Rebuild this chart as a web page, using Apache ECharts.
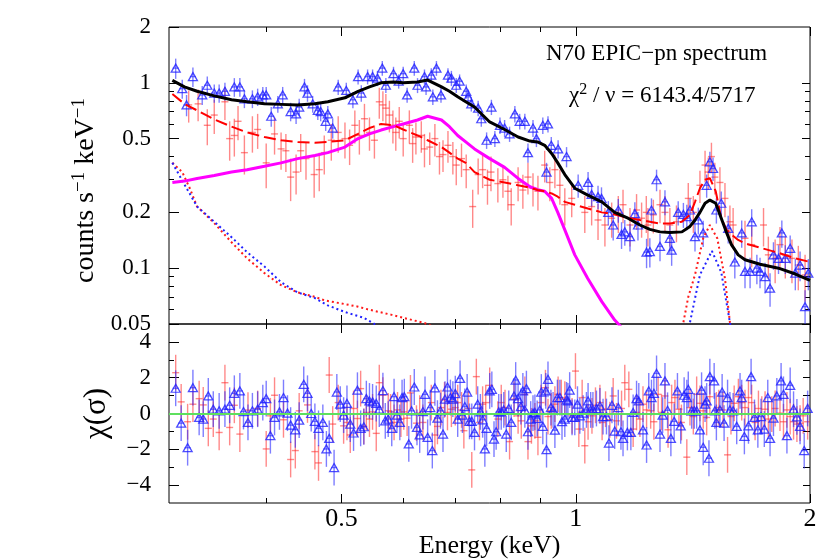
<!DOCTYPE html>
<html>
<head>
<meta charset="utf-8">
<title>N70 EPIC-pn spectrum</title>
<script src="https://cdn.jsdelivr.net/npm/echarts@6.0.0/dist/echarts.min.js"></script>
<style>
  html, body { margin: 0; padding: 0; background: #fff; }
  #chart { width: 830px; height: 560px; }
</style>
</head>
<body>
<div id="chart"></div>
<script>
// energy (keV), counts s^-1 keV^-1, 1-sigma error
const pnData = [
  [0.306,1.20,0.15],[0.312,0.93,0.11],[0.316,0.76,0.10],[0.322,1.08,0.13],[0.331,0.86,0.10],[0.336,0.97,0.11],
  [0.343,0.88,0.10],[0.348,0.88,0.10],[0.354,0.90,0.10],[0.364,0.95,0.11],[0.370,0.95,0.11],[0.375,0.82,0.09],
  [0.384,0.82,0.09],[0.390,0.84,0.09],[0.396,0.86,0.09],[0.400,0.86,0.09],[0.406,0.66,0.08],[0.414,0.77,0.08],
  [0.420,0.86,0.09],[0.430,0.70,0.08],[0.437,0.68,0.08],[0.441,0.74,0.08],[0.448,0.95,0.10],[0.452,0.88,0.09],
  [0.459,0.77,0.08],[0.466,0.71,0.08],[0.470,0.70,0.08],[0.477,0.62,0.07],[0.480,0.68,0.07],[0.487,0.57,0.07],
  [0.495,0.95,0.09],[0.507,0.91,0.09],[0.517,0.81,0.08],[0.525,1.08,0.10],[0.530,0.88,0.09],[0.540,1.08,0.10],
  [0.548,1.08,0.10],[0.556,1.06,0.10],[0.564,1.20,0.11],[0.570,0.97,0.09],[0.583,1.12,0.10],[0.592,1.02,0.09],
  [0.600,1.12,0.10],[0.607,0.86,0.08],[0.620,1.20,0.11],[0.626,0.97,0.09],[0.639,1.08,0.10],[0.642,0.95,0.09],
  [0.652,1.10,0.10],[0.655,0.84,0.08],[0.662,1.20,0.11],[0.671,0.86,0.08],[0.685,1.10,0.10],[0.692,1.06,0.10],
  [0.702,0.97,0.09],[0.709,1.02,0.09],[0.723,0.90,0.08],[0.727,0.84,0.08],[0.734,0.77,0.07],[0.749,0.73,0.07],
  [0.756,0.64,0.06],[0.768,0.49,0.05],[0.779,0.74,0.07],[0.787,0.50,0.05],[0.799,0.59,0.06],[0.810,0.57,0.06],
  [0.822,0.53,0.05],[0.835,0.68,0.07],[0.847,0.62,0.06],[0.860,0.62,0.06],[0.868,0.42,0.05],[0.881,0.57,0.06],
  [0.890,0.50,0.05],[0.907,0.59,0.06],[0.917,0.33,0.04],[0.921,0.60,0.06],[0.930,0.46,0.05],[0.949,0.44,0.05],
  [0.973,0.40,0.05],[1.007,0.28,0.04],[1.037,0.29,0.04],[1.048,0.25,0.035],[1.068,0.243,0.035],[1.079,0.238,0.035],
  [1.101,0.20,0.03],[1.117,0.171,0.03],[1.134,0.206,0.03],[1.145,0.152,0.025],[1.156,0.157,0.025],[1.174,0.148,0.025],
  [1.191,0.197,0.03],[1.202,0.171,0.03],[1.233,0.122,0.022],[1.245,0.123,0.022],[1.251,0.206,0.032],[1.270,0.30,0.04],
  [1.283,0.131,0.022],[1.302,0.228,0.035],[1.321,0.145,0.025],[1.328,0.125,0.022],[1.354,0.20,0.03],[1.375,0.195,0.03],
  [1.389,0.19,0.03],[1.402,0.206,0.032],[1.423,0.148,0.025],[1.437,0.182,0.03],[1.458,0.155,0.025],[1.473,0.28,0.04],
  [1.487,0.375,0.05],[1.501,0.345,0.05],[1.516,0.206,0.032],[1.538,0.224,0.035],[1.570,0.164,0.028],[1.601,0.108,0.02],
  [1.634,0.155,0.026],[1.650,0.096,0.018],[1.675,0.096,0.018],[1.683,0.178,0.03],[1.709,0.100,0.018],[1.725,0.096,0.018],
  [1.751,0.090,0.017],[1.777,0.078,0.016],[1.795,0.118,0.02],[1.822,0.113,0.02],[1.840,0.155,0.026],[1.859,0.113,0.02],
  [1.886,0.128,0.022],[1.915,0.094,0.018],[1.942,0.104,0.019],[1.971,0.062,0.014],[1.990,0.094,0.018]
];

const mosData = [
  [0.318,0.76,0.15],[0.327,0.77,0.15],[0.336,0.59,0.13],[0.343,0.67,0.14],[0.354,0.79,0.16],[0.359,0.50,0.12],
  [0.364,0.52,0.12],[0.368,0.62,0.13],[0.375,0.42,0.10],[0.384,0.54,0.12],[0.390,0.56,0.12],[0.400,0.37,0.10],
  [0.410,0.53,0.12],[0.418,0.44,0.10],[0.424,0.43,0.10],[0.430,0.31,0.08],[0.437,0.33,0.08],[0.443,0.43,0.10],
  [0.450,0.39,0.09],[0.461,0.32,0.08],[0.468,0.34,0.08],[0.475,0.42,0.10],[0.485,0.49,0.11],[0.495,0.54,0.12],
  [0.505,0.50,0.11],[0.512,0.46,0.10],[0.520,0.59,0.12],[0.527,0.52,0.11],[0.535,0.64,0.13],[0.543,0.54,0.11],
  [0.551,0.49,0.10],[0.559,0.79,0.15],[0.565,0.76,0.14],[0.570,0.73,0.14],[0.576,0.67,0.13],[0.582,0.59,0.12],
  [0.587,0.54,0.11],[0.593,0.62,0.12],[0.600,0.50,0.10],[0.611,0.59,0.12],[0.617,0.47,0.10],[0.623,0.51,0.10],
  [0.633,0.52,0.10],[0.639,0.44,0.09],[0.649,0.45,0.09],[0.659,0.50,0.10],[0.668,0.40,0.08],[0.675,0.41,0.08],
  [0.685,0.46,0.09],[0.695,0.40,0.08],[0.702,0.36,0.08],[0.713,0.39,0.08],[0.723,0.34,0.07],[0.737,0.215,0.05],
  [0.749,0.32,0.07],[0.759,0.34,0.07],[0.770,0.28,0.06],[0.778,0.33,0.07],[0.794,0.286,0.06],[0.806,0.30,0.06],
  [0.818,0.26,0.055],[0.826,0.22,0.05],[0.843,0.29,0.06],[0.855,0.264,0.055],[0.868,0.31,0.06],[0.881,0.27,0.055],
  [0.894,0.26,0.055],[0.912,0.36,0.07],[0.926,0.29,0.06],[0.940,0.34,0.07],[0.954,0.28,0.06],[0.968,0.22,0.05],
  [0.988,0.238,0.05],[1.027,0.20,0.045],[1.048,0.215,0.045],[1.068,0.182,0.04],[1.090,0.171,0.04],[1.112,0.186,0.04],
  [1.134,0.20,0.045],[1.150,0.22,0.045],[1.174,0.171,0.04],[1.197,0.206,0.045],[1.215,0.186,0.04],[1.232,0.20,0.045],
  [1.238,0.171,0.04],[1.258,0.194,0.04],[1.283,0.22,0.045],[1.302,0.20,0.045],[1.321,0.171,0.04],[1.347,0.178,0.04],
  [1.395,0.238,0.05],[1.416,0.20,0.045],[1.444,0.28,0.055],[1.466,0.36,0.07],[1.480,0.33,0.065],[1.494,0.40,0.075],
  [1.509,0.31,0.06],[1.532,0.29,0.06],[1.555,0.238,0.05],[1.578,0.178,0.04],[1.593,0.171,0.04],[1.650,0.145,0.035],
  [1.683,0.134,0.033],[1.743,0.171,0.04],[1.768,0.118,0.03],[1.804,0.113,0.03],[1.830,0.134,0.033],[1.859,0.118,0.03],
  [1.896,0.113,0.03],[1.932,0.104,0.028],[1.971,0.092,0.026]
];

// folded models
const modelE = [0.303,0.314,0.326,0.343,0.361,0.378,0.398,0.418,0.439,0.462,0.480,0.505,0.525,0.543,0.562,0.583,
  0.600,0.626,0.645,0.672,0.688,0.705,0.722,0.741,0.775,0.810,0.843,0.873,0.893,0.912,0.931,0.948,0.968,0.997,
  1.036,1.080,1.122,1.167,1.209,1.245,1.283,1.321,1.369,1.402,1.423,1.444,1.466,1.487,1.513,1.538,1.563,1.585,
  1.617,1.650,1.725,1.822,1.915,2.0];
const modelPn = [1.03,0.95,0.90,0.85,0.81,0.79,0.77,0.765,0.76,0.77,0.79,0.83,0.90,0.95,1.0,1.01,1.0,1.01,1.035,0.95,
  0.90,0.84,0.79,0.74,0.615,0.56,0.51,0.485,0.48,0.46,0.416,0.37,0.32,0.27,0.248,0.228,0.20,0.186,0.171,0.162,
  0.157,0.156,0.157,0.168,0.182,0.20,0.224,0.233,0.224,0.186,0.155,0.134,0.118,0.111,0.105,0.10,0.093,0.086];
const modelMos = [0.87,0.77,0.71,0.635,0.58,0.54,0.51,0.49,0.48,0.475,0.48,0.49,0.53,0.57,0.60,0.59,0.56,0.52,0.49,0.45,
  0.42,0.39,0.37,0.33,0.30,0.29,0.28,0.272,0.264,0.26,0.253,0.243,0.228,0.22,0.21,0.20,0.195,0.187,0.182,0.178,
  0.174,0.174,0.178,0.194,0.228,0.27,0.30,0.306,0.26,0.186,0.161,0.152,0.142,0.136,0.129,0.121,0.113,0.108];
const modelComp = [0.29,0.295,0.305,0.316,0.33,0.34,0.355,0.37,0.39,0.405,0.42,0.45,0.50,0.53,0.556,0.58,0.60,0.63,0.66,0.63,
  0.58,0.52,0.48,0.44,0.39,0.35,0.305,0.275,0.265,0.26,0.238,0.20,0.161,0.118,0.088,0.066,0.0525,0.044];

// background and line components
const bgPnE = [0.303,0.317,0.326,0.343,0.361,0.378,0.398,0.418,0.439,0.462,0.480,0.505,0.534,0.556,0.570];
const bgPn = [0.37,0.264,0.215,0.178,0.147,0.122,0.102,0.084,0.074,0.069,0.063,0.058,0.054,0.049,0.045];
const bgMosE = [0.303,0.312,0.319,0.326,0.343,0.361,0.378,0.398,0.418,0.439,0.462,0.476,0.505,0.525,0.540,0.580,0.639,0.668];
const bgMos = [0.37,0.33,0.27,0.215,0.175,0.138,0.113,0.094,0.081,0.074,0.070,0.067,0.064,0.062,0.060,0.056,0.0506,0.047];
const linePnE = [1.389,1.402,1.444,1.496,1.538,1.578,1.593];
const linePn = [0.04,0.051,0.092,0.124,0.095,0.051,0.04];
const lineMosE = [1.361,1.375,1.395,1.423,1.458,1.487,1.520,1.555,1.578,1.593];
const lineMos = [0.04,0.051,0.07,0.092,0.145,0.171,0.145,0.088,0.051,0.04];

// residuals, (data-model)/error
const pnResid = [
  [0.306,1.41],[0.311,-0.54],[0.317,-1.91],[0.322,1.44],[0.328,-0.22],[0.332,-0.31],[0.337,0.98],[0.342,0.24],
  [0.348,0.15],[0.354,0.24],[0.359,0.46],[0.364,1.13],[0.370,1.26],[0.374,0.11],[0.379,-0.50],[0.384,0.15],
  [0.390,0.24],[0.396,0.61],[0.400,0.83],[0.405,-1.24],[0.410,-0.22],[0.416,0.09],[0.421,0.89],[0.426,0.02],
  [0.430,-0.65],[0.436,-0.91],[0.441,-0.37],[0.447,1.63],[0.452,1.13],[0.457,0.00],[0.462,-0.44],[0.467,-0.83],
  [0.473,-0.50],[0.478,-1.98],[0.482,-1.39],[0.489,-3.02],[0.493,1.20],[0.498,0.52],[0.503,-0.09],[0.508,0.56],
  [0.513,-0.59],[0.518,-1.09],[0.524,1.30],[0.529,-0.83],[0.534,-0.74],[0.538,0.83],[0.543,0.70],[0.548,0.65],
  [0.554,0.56],[0.559,0.24],[0.565,1.28],[0.569,-0.41],[0.574,-0.31],[0.580,-0.83],[0.584,0.94],[0.589,-0.09],
  [0.594,-0.50],[0.598,0.89],[0.602,0.94],[0.610,-1.70],[0.615,0.15],[0.620,1.48],[0.625,-0.78],[0.630,-1.20],
  [0.636,0.11],[0.640,1.07],[0.645,-1.33],[0.650,0.33],[0.654,-2.07],[0.659,1.43],[0.664,-0.26],[0.670,0.15],
  [0.675,-1.15],[0.679,0.80],[0.684,1.48],[0.690,0.89],[0.695,0.80],[0.700,1.11],[0.705,-0.31],[0.710,1.96],
  [0.715,-0.09],[0.720,0.39],[0.725,1.20],[0.730,-0.44],[0.735,-0.44],[0.741,-1.06],[0.748,0.52],[0.754,0.09],
  [0.759,-0.35],[0.764,-1.98],[0.768,-0.83],[0.775,1.26],[0.780,1.35],[0.785,-1.43],[0.790,-1.02],[0.796,0.09],
  [0.802,0.09],[0.808,0.20],[0.814,-1.15],[0.820,0.28],[0.826,-0.50],[0.833,0.98],[0.837,1.87],[0.843,0.83],
  [0.850,0.39],[0.855,1.26],[0.860,0.20],[0.864,1.39],[0.868,-1.02],[0.875,-0.31],[0.881,0.02],[0.886,0.06],
  [0.892,-0.28],[0.899,0.20],[0.903,1.20],[0.907,-0.72],[0.915,1.26],[0.917,-2.02],[0.921,1.91],[0.929,0.33],
  [0.935,0.20],[0.940,-0.93],[0.947,0.89],[0.954,0.89],[0.960,-0.46],[0.968,-0.31],[0.973,0.76],[0.977,0.70],
  [0.982,1.31],[0.989,-0.22],[0.997,-0.22],[1.005,0.52],[1.012,-0.13],[1.022,0.02],[1.032,0.20],[1.037,0.70],
  [1.045,0.20],[1.052,0.20],[1.063,0.28],[1.074,0.43],[1.084,-0.17],[1.095,-0.17],[1.103,-1.65],[1.113,0.46],
  [1.122,-0.98],[1.134,0.33],[1.143,-1.02],[1.150,-1.39],[1.165,-1.06],[1.177,-1.06],[1.185,0.06],[1.197,0.83],
  [1.205,0.70],[1.220,-0.91],[1.233,-1.76],[1.241,1.26],[1.251,0.89],[1.260,1.13],[1.270,2.24],[1.283,-1.15],
  [1.293,-0.09],[1.302,1.82],[1.312,0.18],[1.325,-1.39],[1.338,-0.44],[1.351,1.26],[1.364,-0.69],[1.378,1.02],
  [1.389,0.89],[1.395,1.35],[1.409,0.15],[1.420,0.15],[1.430,0.15],[1.444,-0.91],[1.451,1.30],[1.458,-1.89],
  [1.466,0.52],[1.473,0.70],[1.483,-2.50],[1.487,2.06],[1.506,1.82],[1.509,0.15],[1.516,-0.50],[1.532,0.20],
  [1.542,1.20],[1.551,-0.54],[1.567,0.89],[1.578,0.20],[1.593,0.15],[1.610,-0.72],[1.626,1.26],[1.634,0.89],
  [1.647,-1.28],[1.667,-0.69],[1.680,2.06],[1.697,-0.22],[1.714,-0.91],[1.730,-0.17],[1.747,-0.87],[1.765,0.89],
  [1.777,-1.39],[1.795,-0.26],[1.813,0.98],[1.836,1.82],[1.849,1.07],[1.868,-1.24],[1.886,1.57],[1.905,0.24],
  [1.924,-0.19],[1.942,-0.72],[1.966,-2.07],[1.986,0.28]
];
const mosResid = [
  [0.306,2.28],[0.311,0.65],[0.317,-0.46],[0.322,0.52],[0.328,0.83],[0.332,0.48],[0.337,-0.83],[0.342,-0.31],
  [0.348,-1.06],[0.354,1.72],[0.359,-0.78],[0.364,0.46],[0.370,-1.15],[0.379,0.19],[0.390,0.28],[0.400,-1.98],
  [0.405,-0.13],[0.410,1.02],[0.421,-0.35],[0.430,-2.57],[0.436,-2.07],[0.441,0.15],[0.452,0.48],[0.462,-2.13],
  [0.467,-2.76],[0.482,2.15],[0.487,-0.59],[0.495,0.61],[0.503,-0.69],[0.508,-0.50],[0.513,-1.20],[0.518,0.28],
  [0.524,-0.28],[0.529,1.39],[0.534,-0.72],[0.538,0.06],[0.543,-0.31],[0.548,0.09],[0.554,-1.11],[0.559,1.72],
  [0.565,1.02],[0.574,0.15],[0.578,0.09],[0.584,-0.50],[0.590,0.20],[0.596,-0.31],[0.601,0.09],[0.607,-0.26],
  [0.613,1.15],[0.624,-0.54],[0.630,0.02],[0.636,-0.50],[0.652,0.61],[0.659,-1.20],[0.664,-0.72],[0.671,0.33],
  [0.678,0.76],[0.684,0.06],[0.692,0.24],[0.700,0.33],[0.705,0.61],[0.713,0.20],[0.718,-0.96],[0.728,0.28],
  [0.735,-3.15],[0.745,2.06],[0.752,-0.50],[0.759,0.52],[0.766,0.61],[0.775,1.57],[0.794,-0.31],[0.802,0.61],
  [0.811,0.33],[0.822,-1.57],[0.833,0.80],[0.843,-0.13],[0.851,-0.41],[0.860,1.07],[0.868,-1.57],[0.877,-0.69],
  [0.886,-0.41],[0.894,-1.33],[0.902,0.61],[0.914,1.44],[0.921,-0.17],[0.930,0.15],[0.940,0.52],[0.949,1.07],
  [0.958,0.89],[0.968,0.80],[0.989,-0.13],[0.999,2.37],[1.009,-0.87],[1.019,0.89],[1.027,-1.80],[1.037,-0.46],
  [1.049,-0.13],[1.060,0.46],[1.074,0.61],[1.081,-0.50],[1.092,0.24],[1.106,-0.35],[1.117,0.98],[1.128,-0.41],
  [1.145,0.28],[1.156,1.72],[1.170,1.35],[1.185,-0.87],[1.197,0.06],[1.209,-0.31],[1.220,0.52],[1.233,0.20],
  [1.248,0.15],[1.260,-0.46],[1.276,1.07],[1.289,0.06],[1.302,0.98],[1.314,-0.91],[1.328,0.61],[1.341,0.89],
  [1.357,0.24],[1.367,-0.50],[1.389,-2.44],[1.402,0.33],[1.416,-0.17],[1.430,1.07],[1.444,0.57],[1.458,0.15],
  [1.473,-0.22],[1.487,0.94],[1.516,0.20],[1.527,0.33],[1.546,0.20],[1.567,-2.31],[1.583,-0.17],[1.598,0.57],
  [1.618,0.94],[1.634,0.61],[1.650,0.33],[1.667,0.89],[1.683,0.61],[1.700,-0.50],[1.717,0.28],[1.734,-0.04],
  [1.751,0.24],[1.768,-0.31],[1.786,-0.04],[1.804,0.28],[1.830,0.02],[1.849,-0.46],[1.868,0.20],[1.886,-0.17],
  [1.905,-0.46],[1.924,-0.59],[1.942,-0.54],[1.960,-0.13],[1.986,-0.46]
];
const RES_ERR = 1;

// ticks
const xTicks = [0.5, 1, 2];
const xTickLabels = ['0.5', '1', '2'];
const xMinorTicks = [0.4, 0.6, 0.7, 0.8, 0.9];
const yTicks = [0.05, 0.1, 0.2, 0.5, 1, 2];
const yTickLabels = ['0.05', '0.1', '0.2', '0.5', '1', '2'];
const yMinorTicks = [0.06, 0.07, 0.08, 0.09, 0.3, 0.4, 0.6, 0.7, 0.8, 0.9];
const chiTicks = [-4, -2, 0, 2, 4];
const chiMinorTicks = [-3, -1, 1, 3];

const lg = Math.log10;
const FONT = 'Liberation Serif';
const X_MIN = lg(0.3), X_MAX = lg(2);
const Y_MIN = lg(0.05), Y_MAX = lg(2);

function nearestLabel(ticks, labels) {
  return function (v) {
    let best = 0;
    ticks.forEach((t, i) => { if (Math.abs(lg(t) - v) < Math.abs(lg(ticks[best]) - v)) best = i; });
    return labels[best];
  };
}

function tickAxis(gridIndex, position, min, max, ticks, len, extra) {
  return Object.assign({
    type: 'value', gridIndex: gridIndex, position: position, min: min, max: max,
    axisLine: { show: false, onZero: false },
    axisTick: { show: true, inside: true, length: len, customValues: ticks, lineStyle: { color: '#000', width: 1 } },
    axisLabel: { show: false },
    splitLine: { show: false }
  }, extra || {});
}

const lgTicks = arr => arr.map(v => lg(v));

// rich styles for superscripts
const nameRich = {
  a: { fontFamily: FONT, fontSize: 28, lineHeight: 32, color: '#000' },
  s: { fontFamily: FONT, fontSize: 19, lineHeight: 19, verticalAlign: 'top', color: '#000' }
};

const xAxes = [
  // top panel
  tickAxis(0, 'bottom', X_MIN, X_MAX, lgTicks(xTicks), 9),
  tickAxis(0, 'bottom', X_MIN, X_MAX, lgTicks(xMinorTicks), 5),
  tickAxis(0, 'top', X_MIN, X_MAX, lgTicks(xTicks), 9),
  tickAxis(0, 'top', X_MIN, X_MAX, lgTicks(xMinorTicks), 5),
  // residual panel
  tickAxis(1, 'bottom', X_MIN, X_MAX, lgTicks(xTicks), 9, {
    axisLabel: {
      show: true, customValues: lgTicks(xTicks), formatter: nearestLabel(xTicks, xTickLabels),
      margin: 3, fontFamily: FONT, fontSize: 26, color: '#000'
    },
    name: 'Energy (keV)', nameLocation: 'middle', nameGap: 29,
    nameTextStyle: { fontFamily: FONT, fontSize: 26, color: '#000' }
  }),
  tickAxis(1, 'bottom', X_MIN, X_MAX, lgTicks(xMinorTicks), 5),
  tickAxis(1, 'top', X_MIN, X_MAX, lgTicks(xTicks), 9),
  tickAxis(1, 'top', X_MIN, X_MAX, lgTicks(xMinorTicks), 5)
];

const yAxes = [
  tickAxis(0, 'left', Y_MIN, Y_MAX, lgTicks(yTicks), 10, {
    axisLabel: {
      show: true, customValues: lgTicks(yTicks), formatter: nearestLabel(yTicks, yTickLabels),
      margin: 18, fontFamily: FONT, fontSize: 23, color: '#000'
    },
    name: '{a|counts s}{s|\u22121}{a| keV}{s|\u22121}', nameLocation: 'middle', nameGap: 57,
    nameTextStyle: { padding: [0, 30, 0, 0], rich: nameRich }
  }),
  tickAxis(0, 'left', Y_MIN, Y_MAX, lgTicks(yMinorTicks), 5),
  tickAxis(0, 'right', Y_MIN, Y_MAX, lgTicks(yTicks.filter(v => v <= 1)), 8),
  tickAxis(0, 'right', Y_MIN, Y_MAX, lgTicks(yMinorTicks), 5),
  tickAxis(1, 'left', -5, 5, chiTicks, 10, {
    axisLabel: {
      show: true, customValues: chiTicks, formatter: v => (v < 0 ? '\u2212' + (-v) : String(v)),
      margin: 18, fontFamily: FONT, fontSize: 23, color: '#000'
    },
    name: '\u03C7(\u03C3)', nameLocation: 'middle', nameGap: 57,
    nameTextStyle: { fontFamily: FONT, fontSize: 31, color: '#000' }
  }),
  tickAxis(1, 'left', -5, 5, chiMinorTicks, 5),
  tickAxis(1, 'right', -5, 5, chiTicks.concat(chiMinorTicks), 7),
  tickAxis(1, 'right', -5, 5, [], 5)
];

// error bar rendering: value = [x, y, yHigh, yLow]
function errorBars(color, width, capHalf) {
  return function (params, api) {
    const c = api.coord([api.value(0), api.value(1)]);
    const hi = api.coord([api.value(0), api.value(2)]);
    const lo = api.coord([api.value(0), api.value(3)]);
    const style = { stroke: color, lineWidth: width };
    const kids = [{ type: 'line', shape: { x1: c[0], y1: hi[1], x2: c[0], y2: lo[1] }, style: style }];
    if (capHalf) {
      kids.push({ type: 'line', shape: { x1: c[0] - capHalf, y1: c[1], x2: c[0] + capHalf, y2: c[1] }, style: style });
    }
    return { type: 'group', children: kids };
  };
}

const fluxErr = pts => pts.map(p => [lg(p[0]), lg(p[1]), lg(p[1] + p[2]), lg(Math.max(p[1] - p[2], 1e-4))]);
const residErr = pts => pts.map(p => [lg(p[0]), p[1], p[1] + RES_ERR, p[1] - RES_ERR]);
const curve = (es, vs) => vs.map((v, i) => [lg(es[i]), lg(v)]);

const RED = '#ff1a1a', RED_BAR = 'rgba(255,40,40,0.55)';
const BLUE = '#2020ff', BLUE_BAR = 'rgba(40,40,255,0.6)';

function errSeries(data, color, capHalf, panel) {
  return {
    type: 'custom', xAxisIndex: panel * 4, yAxisIndex: panel * 4, clip: true, silent: true,
    renderItem: errorBars(color, 1.4, capHalf),
    encode: { x: 0, y: [1, 2, 3] },
    data: data
  };
}

function triSeries(data, panel) {
  return {
    type: 'scatter', xAxisIndex: panel * 4, yAxisIndex: panel * 4, silent: true,
    symbol: 'triangle', symbolSize: [9, 8],
    itemStyle: { color: 'rgba(255,255,255,0)', borderColor: BLUE, borderWidth: 1.3 },
    data: data
  };
}

function lineSeries(data, color, width, type) {
  return {
    type: 'line', xAxisIndex: 0, yAxisIndex: 0, silent: true, clip: true,
    showSymbol: false, symbol: 'none',
    lineStyle: { color: color, width: width, type: type || 'solid' },
    data: data
  };
}

const titleRich = {
  a: { fontFamily: FONT, fontSize: 23, lineHeight: 28, color: '#000' },
  s: { fontFamily: FONT, fontSize: 16, lineHeight: 16, verticalAlign: 'top', color: '#000' }
};

const option = {
  animation: false,
  backgroundColor: '#fff',
  grid: [
    { left: 169, top: 27, width: 641, height: 297, show: true, borderColor: '#000', borderWidth: 1, outerBoundsMode: 'none' },
    { left: 169, top: 324, width: 641, height: 179, show: true, borderColor: '#000', borderWidth: 1, outerBoundsMode: 'none' }
  ],
  xAxis: xAxes,
  yAxis: yAxes,
  graphic: [
    { type: 'text', left: 546, top: 42, style: { text: '{a|N70 EPIC\u2212pn spectrum}', rich: titleRich } },
    { type: 'text', left: 569, top: 82, style: { text: '{a|\u03C7}{s|2}{a| / \u03BD = 6143.4/5717}', rich: titleRich } }
  ],
  series: [
    // top panel data
    errSeries(fluxErr(mosData), RED_BAR, 3.5, 0),
    errSeries(fluxErr(pnData), BLUE_BAR, 3, 0),
    triSeries(pnData.map(p => [lg(p[0]), lg(p[1])]), 0),
    // components
    lineSeries(curve(bgMosE, bgMos), RED, 2, [2, 3]),
    lineSeries(curve(bgPnE, bgPn), BLUE, 2, [2, 3]),
    lineSeries(curve(lineMosE, lineMos), RED, 2, [2, 3]),
    lineSeries(curve(linePnE, linePn), BLUE, 2, [2, 3]),
    lineSeries(curve(modelE, modelComp), '#ff00ff', 3),
    lineSeries(curve(modelE, modelMos), '#ff0000', 2, [12, 5]),
    lineSeries(curve(modelE, modelPn), '#000', 3),
    // residual panel
    Object.assign(errSeries(residErr(mosResid), RED_BAR, 3.5, 1), {
      markLine: {
        silent: true, symbol: 'none', label: { show: false },
        lineStyle: { color: '#5ee05e', width: 2, type: 'solid' },
        data: [{ yAxis: 0 }]
      }
    }),
    errSeries(residErr(pnResid), BLUE_BAR, 3, 1),
    triSeries(pnResid.map(p => [lg(p[0]), p[1]]), 1)
  ]
};

const chart = echarts.init(document.getElementById('chart'), null, { renderer: 'canvas' });
chart.setOption(option);
</script>
</body>
</html>
